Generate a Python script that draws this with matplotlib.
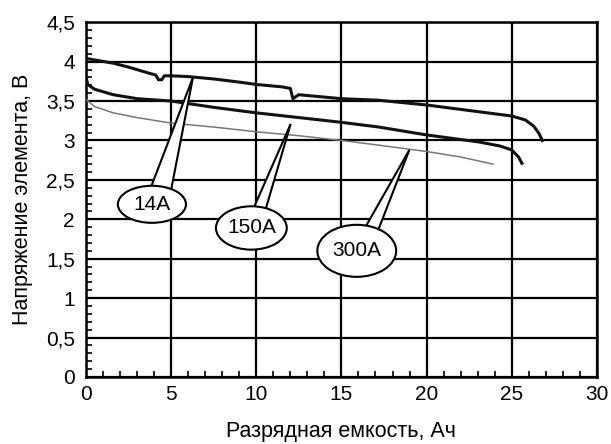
import numpy as np
import matplotlib
matplotlib.use("Agg")
import matplotlib.pyplot as plt
from matplotlib.patches import Ellipse, Polygon

plt.rcParams['font.family'] = ['Liberation Sans', 'DejaVu Sans']

# --- data ---
cap_14 = [0, 0.8, 1.6, 2.5, 3.75, 4.1, 4.25, 4.45, 4.6, 5, 6, 7.5, 9, 10, 11.5, 12.0, 12.15, 12.35, 12.5, 13.5, 15, 17.2, 20, 22.5, 25, 25.8, 26.3, 26.6, 26.8]
v_14   = [4.04, 4.01, 3.98, 3.93, 3.85, 3.83, 3.77, 3.77, 3.82, 3.82, 3.81, 3.78, 3.74, 3.71, 3.68, 3.66, 3.53, 3.56, 3.58, 3.56, 3.53, 3.51, 3.45, 3.38, 3.31, 3.26, 3.18, 3.09, 3.00]

cap_150 = [0, 0.1, 0.5, 1.6, 3, 5, 7.5, 10, 12.5, 15, 17.2, 20, 23.1, 24.3, 25, 25.4, 25.6]
v_150   = [3.81, 3.71, 3.65, 3.58, 3.53, 3.50, 3.42, 3.35, 3.29, 3.23, 3.17, 3.07, 2.98, 2.93, 2.88, 2.79, 2.71]

cap_300 = [0, 0.5, 1.6, 3, 5, 7.5, 10, 12.5, 15, 17.2, 20, 22, 23.9]
v_300   = [3.52, 3.43, 3.35, 3.29, 3.22, 3.17, 3.11, 3.06, 3.00, 2.94, 2.86, 2.79, 2.70]

labels      = ["14A", "150A", "300A"]
label_x     = [3.87, 9.71, 15.9]
label_y     = [2.19, 1.89, 1.60]
label_w     = [4.0, 4.16, 4.63]
label_h     = [0.47, 0.55, 0.66]
base_off    = [(-0.015, 0.28), (0.034, 0.20), (0.11, 0.27)]
tip_x       = [6.28, 12.02, 18.99]
tip_y       = [3.80, 3.21, 2.88]

xticks = [0, 5, 10, 15, 20, 25, 30]
yticks = [0, 0.5, 1, 1.5, 2, 2.5, 3, 3.5, 4, 4.5]
ytick_labels = ["0", "0,5", "1", "1,5", "2", "2,5", "3", "3,5", "4", "4,5"]

fig = plt.figure(figsize=(6.11, 4.44), dpi=100)
ax = fig.add_axes([0.1408, 0.151, 0.836, 0.799])
ax.set_xlim(0, 30)
ax.set_ylim(0, 4.5)

ax.set_xticks(xticks)
ax.set_yticks(yticks)
ax.set_yticklabels(ytick_labels)
ax.set_xticks(np.arange(0, 31, 1), minor=True)
ax.set_yticks(np.arange(0, 4.51, 0.1), minor=True)
ax.tick_params(which='major', direction='in', length=0, labelsize=15, colors='black')
ax.tick_params(axis='x', which='major', pad=6)
ax.tick_params(axis='y', which='major', pad=8)
ax.tick_params(which='minor', direction='in', length=4, width=1.2, colors='black')
ax.grid(True, which='major', color='black', linewidth=1.6)
for s in ax.spines.values():
    s.set_linewidth(1.8)

ax.plot(cap_14, v_14, color='#111111', lw=2.2, zorder=3, solid_joinstyle='round')
ax.plot(cap_150, v_150, color='#111111', lw=2.2, zorder=3, solid_joinstyle='round')
ax.plot(cap_300, v_300, color='#777777', lw=1.1, zorder=3)

for lab, cx, cy, w, h, off, tx, ty in zip(labels, label_x, label_y, label_w, label_h, base_off, tip_x, tip_y):
    pts = []
    for o in off:
        bx = cx + o * w
        by = cy + (h / 2) * np.sqrt(max(0.0, 1 - (2 * (bx - cx) / w) ** 2)) - 0.02
        pts.append((bx, by))
    poly = Polygon([pts[0], (tx, ty), pts[1]], closed=True, facecolor='white',
                   edgecolor='black', lw=1.5, zorder=5)
    ax.add_patch(poly)
    ell = Ellipse((cx, cy), w, h, facecolor='white', edgecolor='black', lw=1.5, zorder=6)
    ax.add_patch(ell)
    ax.text(cx, cy, lab, ha='center', va='center', fontsize=15, zorder=7)

ax.set_xlabel("Разрядная емкость, Ач", fontsize=15.5, va='center')
ax.xaxis.set_label_coords(0.5, -0.155)
ax.set_ylabel("Напряжение элемента, В", fontsize=15.5, va='center')
ax.yaxis.set_label_coords(-0.125, 0.5)

fig.savefig("out.png", dpi=100)
